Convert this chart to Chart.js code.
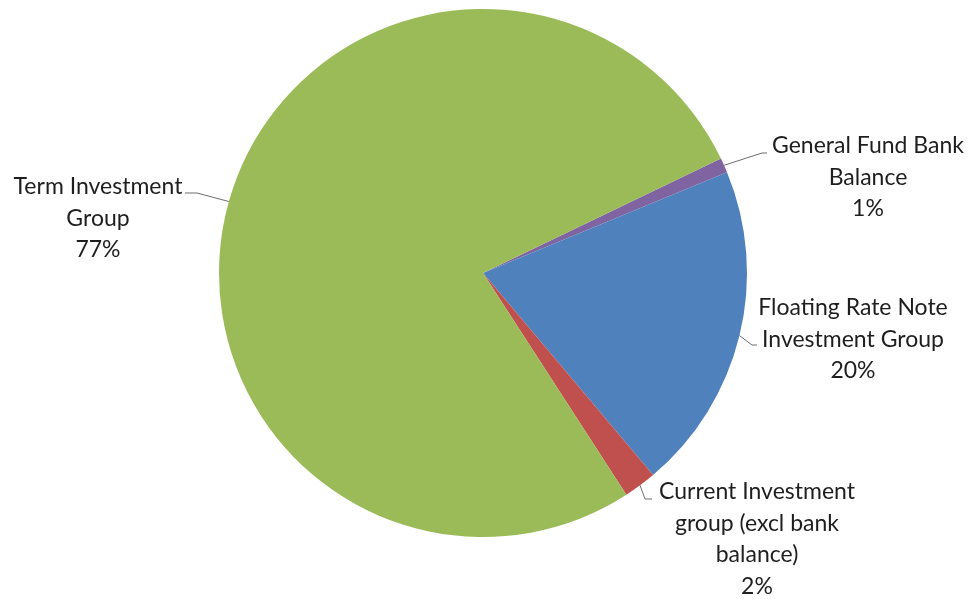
<!DOCTYPE html>
<html>
<head>
<meta charset="utf-8">
<script src="https://cdn.jsdelivr.net/npm/chart.js@4.4.0/dist/chart.umd.min.js"></script>
<style>
  html, body { margin: 0; padding: 0; background: #fff; }
  #wrap { position: relative; width: 972px; height: 599px; }
</style>
</head>
<body>
<div id="wrap"><canvas id="chart"></canvas></div>
<script>
const categories = [
  ["General Fund Bank", "Balance"],
  ["Floating Rate Note", "Investment Group"],
  ["Current Investment", "group (excl bank", "balance)"],
  ["Term Investment", "Group"]
];
const shares = [0.9, 20.1, 2.0, 77.0];
const sliceColors = ["#8064A2", "#4F81BD", "#C0504D", "#9BBB59"];

// label placement: text centre x, middle of first line y, leader elbow + end
const labelSpots = [
  { x: 868, y: 146, elbow: [762, 153], end: [767, 153] },
  { x: 853, y: 308, elbow: [752, 345], end: [757, 345] },
  { x: 757, y: 492, elbow: [645, 499], end: [652, 499] },
  { x: 98,  y: 187, elbow: [197, 193], end: [185, 193] }
];

const pieLabels = {
  id: "pieLabels",
  afterDatasetsDraw(chart) {
    const ctx = chart.ctx;
    const arcs = chart.getDatasetMeta(0).data;
    const total = shares.reduce((a, b) => a + b, 0);
    ctx.save();
    ctx.font = "23px Lato";
    ctx.textAlign = "center";
    ctx.textBaseline = "middle";
    arcs.forEach((arc, i) => {
      const p = arc.getProps(["x", "y", "startAngle", "endAngle", "outerRadius"], true);
      const mid = (p.startAngle + p.endAngle) / 2;
      const ax = p.x + Math.cos(mid) * p.outerRadius;
      const ay = p.y + Math.sin(mid) * p.outerRadius;
      const spot = labelSpots[i];

      ctx.strokeStyle = "#6d6d6d";
      ctx.lineWidth = 1;
      ctx.beginPath();
      ctx.moveTo(ax, ay);
      ctx.lineTo(spot.elbow[0], spot.elbow[1]);
      ctx.lineTo(spot.end[0], spot.end[1]);
      ctx.stroke();

      const lines = categories[i].concat([Math.round(shares[i] / total * 100) + "%"]);
      ctx.fillStyle = "#1e1e1e";
      lines.forEach((t, k) => {
        ctx.fillText(t, spot.x, spot.y + k * 31.5);
      });
    });
    ctx.restore();
  }
};

const myChart = new Chart(document.getElementById("chart"), {
  type: "pie",
  data: {
    labels: categories.map(c => c.join(" ")),
    datasets: [{
      data: shares,
      backgroundColor: sliceColors,
      borderWidth: 0,
      hoverOffset: 0,
      offset: 0
    }]
  },
  options: {
    responsive: true,
    maintainAspectRatio: false,
    animation: false,
    rotation: 64.3,
    layout: {
      padding: { left: 219, right: 225, top: 9, bottom: 62 }
    },
    plugins: {
      legend: { display: false },
      tooltip: { enabled: false },
      title: { display: false }
    }
  },
  plugins: [pieLabels]
});
</script>
</body>
</html>
